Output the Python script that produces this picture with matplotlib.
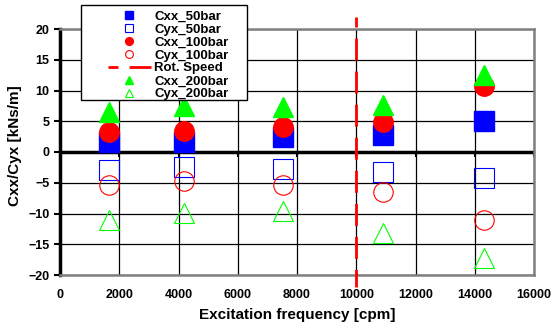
import numpy as np
import matplotlib.pyplot as plt
from matplotlib.patches import Rectangle

plt.rcParams['font.family'] = ['Liberation Sans', 'DejaVu Sans']
plt.rcParams['font.weight'] = 'bold'

# excitation frequencies [cpm]
freq = [1650, 4180, 7520, 10900, 14300]

cxx_50 = [1.6, 1.7, 2.4, 2.7, 5.0]
cyx_50 = [-2.85, -2.4, -2.7, -3.25, -4.15]
cxx_100 = [3.25, 3.4, 4.1, 4.8, 10.7]
cyx_100 = [-5.4, -4.7, -5.3, -6.45, -11.05]
cxx_200 = [6.5, 7.5, 7.3, 7.6, 12.6]
cyx_200 = [-11.0, -9.9, -9.6, -13.1, -17.2]

rot_speed = 10000
xticks = np.arange(0, 16001, 2000)
yticks = np.arange(-20, 21, 5)

fig = plt.figure(figsize=(5.52, 3.32), dpi=100)
ax = fig.add_axes([60/552, 57/332, 474/552, 246/332])

ms = 14
h1, = ax.plot(freq, cxx_50, 's', color='blue', ms=ms, mec='blue', ls='none', label='Cxx_50bar', zorder=3)
h2, = ax.plot(freq, cyx_50, 's', mfc='none', mec='blue', mew=0.8, ms=ms, ls='none', label='Cyx_50bar', zorder=3)
h3, = ax.plot(freq, cxx_100, 'o', color='red', ms=ms, ls='none', label='Cxx_100bar', zorder=4)
h4, = ax.plot(freq, cyx_100, 'o', mfc='none', mec='red', mew=0.8, ms=ms, ls='none', label='Cyx_100bar', zorder=4)
h5, = ax.plot([rot_speed, rot_speed], [21.9, -21.9], color='red', lw=2,
              linestyle=(4.3, (7.9, 4.0)), label='Rot. Speed', clip_on=False, zorder=5)
h6, = ax.plot(freq, cxx_200, '^', color='lime', ms=ms, ls='none', label='Cxx_200bar', zorder=5)
h7, = ax.plot(freq, cyx_200, '^', mfc='none', mec='lime', mew=0.8, ms=ms, ls='none', label='Cyx_200bar', zorder=5)

ax.set_xlim(0, 16000)
ax.set_ylim(-20, 20)
ax.set_xticks(xticks)
ax.set_yticks(yticks)
ax.grid(True, color='black', lw=0.9)
ax.set_axisbelow(True)

for s in ['top', 'right', 'bottom']:
    ax.spines[s].set_color('gray')
    ax.spines[s].set_linewidth(1.8)
ax.spines['left'].set_color('black')
ax.spines['left'].set_linewidth(2.5)

ax.tick_params(axis='x', length=0, labelsize=9, pad=10)
ax.tick_params(axis='y', length=4.5, width=1.5, labelsize=9, pad=3, direction='out')

# thick zero line with small ticks below it
ax.axhline(0, color='black', lw=2.5, zorder=2)
sec = ax.secondary_xaxis(0.5)
sec.set_xticks(xticks)
sec.set_xticklabels([])
for s in sec.spines.values():
    s.set_visible(False)
sec.tick_params(axis='x', length=3.5, width=1.5, direction='in')

ax.set_xlabel('Excitation frequency [cpm]', fontsize=11, fontweight='bold', labelpad=5)
ax.set_ylabel('Cxx/Cyx [kNs/m]', fontsize=11, fontweight='bold')
ax.yaxis.set_label_coords(-0.08, 0.524)

# legend box
fig.add_artist(Rectangle((81/552, 232/332), 166/552, 95/332, transform=fig.transFigure,
                         facecolor='white', edgecolor='black', lw=1.0, zorder=4))
leg = fig.legend(handles=[h1, h2, h3, h4, h5, h6, h7], loc='upper left',
                 bbox_to_anchor=(101/552, 1 - 4/332), fontsize=9.5, frameon=False,
                 markerscale=0.4, handlelength=3.3, labelspacing=0.05,
                 borderpad=0, handletextpad=0.25)
leg.set_zorder(6)

fig.savefig('out.png', dpi=100)
